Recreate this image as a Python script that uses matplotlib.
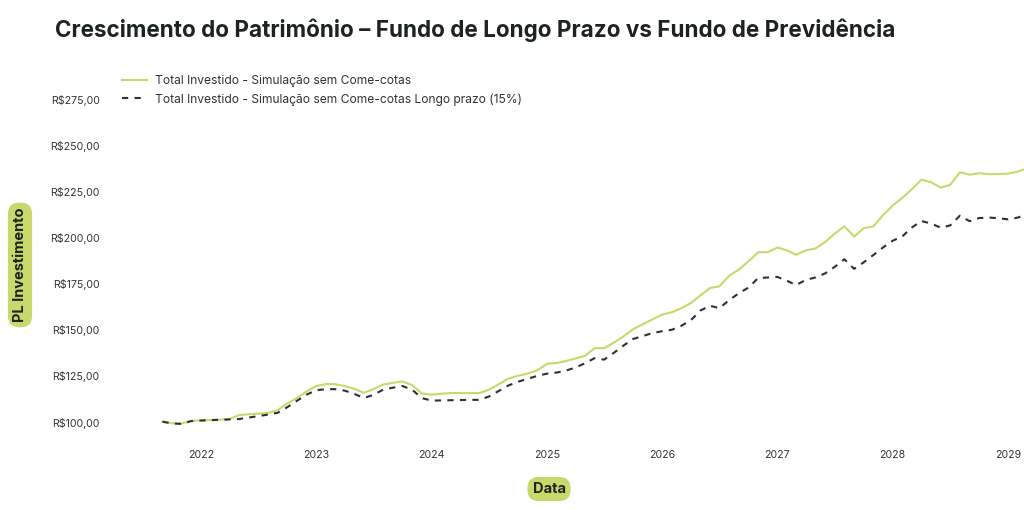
import numpy as np
import pandas as pd
import matplotlib
matplotlib.use('Agg')
import matplotlib.pyplot as plt
import matplotlib.dates as mdates
from matplotlib.ticker import FuncFormatter

# Monthly series, Sep 2021 onwards
datas = pd.date_range('2021-09-01', periods=91, freq='MS')

sem_come_cotas = [
    100.2, 99.3, 99.2, 100.6, 100.9, 101.1, 101.3, 101.6, 103.7, 104.2,
    104.5, 104.9, 106.5, 110.0, 113.0, 116.5, 119.5, 120.6, 120.5, 119.5,
    118.0, 115.8, 117.8, 120.3, 121.2, 122.0, 120.0, 115.5, 114.8, 115.3,
    115.7, 115.7, 115.7, 115.7, 117.5, 120.5, 123.5, 125.0, 126.3, 128.0,
    131.5, 132.0, 133.0, 134.4, 135.8, 140.0, 140.0, 143.0, 146.5, 150.3,
    153.0, 155.6, 158.2, 159.5, 161.5, 164.4, 168.4, 172.6, 173.5, 179.2,
    182.6, 187.0, 192.0, 192.0, 194.5, 193.0, 190.6, 193.0, 194.0, 197.5,
    202.0, 206.0, 200.5, 205.0, 206.0, 212.0, 217.3, 221.5, 226.0, 231.3,
    230.0, 227.0, 228.5, 235.3, 234.0, 234.8, 234.3, 234.4, 234.6, 235.7,
    237.5,
]

longo_prazo = [
    100.2, 99.2, 99.0, 100.5, 100.8, 101.0, 101.2, 101.4, 101.6, 102.4,
    103.2, 104.0, 105.0, 108.0, 111.5, 114.8, 117.2, 117.8, 117.8, 117.0,
    115.3, 113.0, 114.7, 117.5, 118.6, 119.5, 117.5, 113.0, 111.6, 111.7,
    111.8, 111.9, 112.0, 112.0, 113.8, 116.8, 119.8, 121.8, 123.4, 125.0,
    126.2, 126.8, 127.8, 129.5, 131.8, 134.6, 133.8, 137.5, 141.5, 145.0,
    146.6, 148.2, 149.2, 150.0, 152.0, 155.0, 160.3, 163.0, 161.7, 166.0,
    169.8, 172.8, 178.0, 178.3, 178.6, 176.5, 174.2, 177.0, 178.3, 180.5,
    184.0, 188.2, 183.0, 186.5, 190.5, 194.5, 198.2, 200.6, 205.3, 208.9,
    207.6, 205.3, 206.5, 211.8, 208.8, 210.5, 210.8, 210.4, 209.8, 210.8,
    212.5,
]

verde = '#c9d86a'
escuro = '#2b3136'
plt.rcParams['font.family'] = ['Inter', 'DejaVu Sans']

fig = plt.figure(figsize=(10.24, 5.17), dpi=100)
ax = fig.add_axes([115 / 1024, 1 - 440 / 517, 1 - 115 / 1024, 350 / 517])

ax.plot(datas, sem_come_cotas, color=verde, lw=1.5,
        label='Total Investido - Simulação sem Come-cotas')
ax.plot(datas, longo_prazo, color=escuro, lw=1.5, ls=(0, (3, 3)),
        label='Total Investido - Simulação sem Come-cotas Longo prazo (15%)')

base = mdates.date2num(pd.Timestamp('2022-01-01'))
px_dia = 115.3 / 365.25
ax.set_xlim(base - (201 - 115) / px_dia, base + (1024 - 201) / px_dia)
ax.set_ylim(90.25, 279.9)

ax.xaxis.set_major_locator(mdates.YearLocator())
ax.xaxis.set_major_formatter(mdates.DateFormatter('%Y'))
ax.set_yticks([100, 125, 150, 175, 200, 225, 250, 275])
ax.yaxis.set_major_formatter(FuncFormatter(lambda v, p: f'R${v:.2f}'.replace('.', ',')))
ax.tick_params(length=0, labelsize=7.6, colors='#333333')
ax.tick_params(axis='y', pad=11)
ax.tick_params(axis='x', pad=7)
for s in ax.spines.values():
    s.set_visible(False)

fig.text(55 / 1024, 1 - 30 / 517, 'Crescimento do Patrimônio – Fundo de Longo Prazo vs Fundo de Previdência',
         fontsize=16.2, fontweight='bold', color='#1c2320', va='center', ha='left')

leg = fig.legend(loc='upper left', bbox_to_anchor=(116 / 1024, 1 - 69 / 517), frameon=False,
                 fontsize=8.7, handlelength=2.1, handletextpad=0.6, labelspacing=0.5, borderpad=0)
for t in leg.get_texts():
    t.set_color('#333333')

box = dict(boxstyle='round,pad=0.35,rounding_size=0.8', fc=verde, ec='none')
fig.text(20 / 1024, 1 - 265 / 517, 'PL Investimento', rotation=90, fontsize=10.5,
         fontweight='bold', color='#1c2320', ha='center', va='center', bbox=box)
fig.text(549 / 1024, 1 - 489 / 517, 'Data', fontsize=10.5, fontweight='bold',
         color='#1c2320', ha='center', va='center', bbox=box)

fig.savefig('out.png', dpi=100, facecolor='white')
